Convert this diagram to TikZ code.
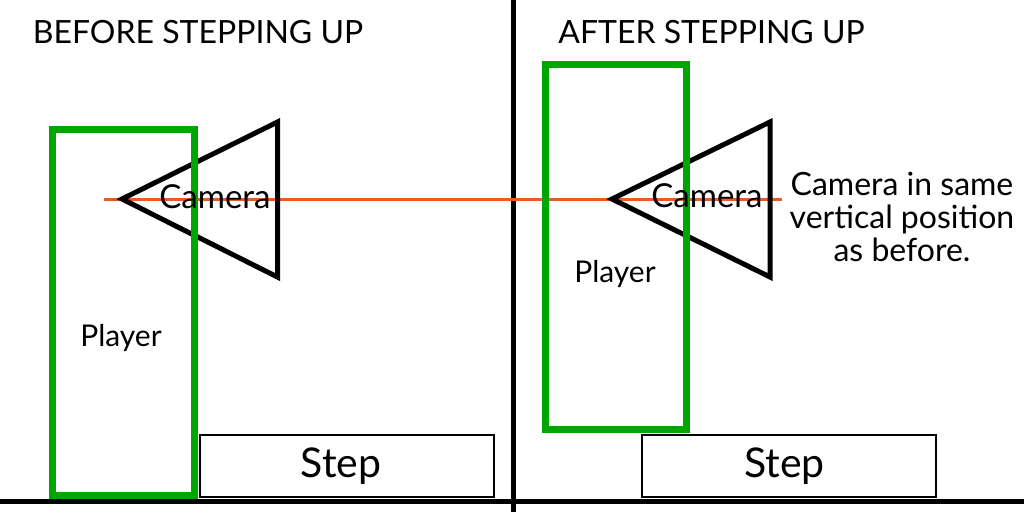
\documentclass[tikz,border=0pt]{standalone}
\usepackage{fontspec}
\setmainfont{Lato}
\definecolor{pgreen}{RGB}{0,166,0}
\definecolor{eyeline}{RGB}{235,90,30}
\begin{document}
\begin{tikzpicture}[x=1pt,y=-1pt,
  player/.style={draw=pgreen,line width=7pt},
  cam/.style={draw=black,line width=5pt,line join=miter},
  stepbox/.style={draw=black,line width=2.5pt},
  divider/.style={draw=black,line width=5pt},
  ground/.style={draw=black,line width=4.5pt},
  sight/.style={draw=eyeline,line width=3pt},
  lbl/.style={font=\fontsize{30}{33}\selectfont,inner sep=0pt,anchor=base},
  title/.style={font=\fontsize{32}{36}\selectfont,inner sep=0pt,anchor=base},
  camlbl/.style={font=\fontsize{33}{36}\selectfont,inner sep=0pt,anchor=base},
  note/.style={font=\fontsize{32}{33}\selectfont,inner sep=0pt,anchor=base,align=center},
  steplbl/.style={font=\fontsize{41}{48}\selectfont,inner sep=0pt,anchor=base}]
\useasboundingbox (0,0) rectangle (1024,512);
% frame lines
\draw[divider] (513,0) -- (513,512);
\draw[ground] (0,501.5) -- (1024,501.5);
% steps
\draw[stepbox] (200,435) rectangle (494,497);
\draw[stepbox] (642,435) rectangle (936,497);
% line of sight
\coordinate (s0) at (104,199);
\coordinate (s1) at (782,199);
\draw[sight] (s0) -- (s1);
% cameras
\coordinate (c1a) at (122,199);
\coordinate (c1b) at (277.5,122);
\coordinate (c1c) at (277.5,277);
\draw[cam] (c1a) -- (c1b) -- (c1c) -- cycle;
\coordinate (c2a) at (612,199);
\coordinate (c2b) at (770,122);
\coordinate (c2c) at (770,277);
\draw[cam] (c2a) -- (c2b) -- (c2c) -- cycle;
% players
\draw[player] (52.5,129.5) rectangle (194.5,495);
\draw[player] (545,64) rectangle (686,429);
% labels
\node[title] (t1) at (198,43) {BEFORE STEPPING UP};
\node[title] (t2) at (711.5,43) {AFTER STEPPING UP};
\node[camlbl] (cam1) at (215,208) {Camera};
\node[camlbl] (cam2) at (707,207) {Camera};
\node[lbl] (pl1) at (121,346) {Player};
\node[lbl] (pl2) at (615,282) {Player};
\node[steplbl] (st1) at (341,477) {Step};
\node[steplbl] (st2) at (784.5,477) {Step};
\node[note] (note) at (902,261) {Camera in same\\vertical position\\as before.};
\end{tikzpicture}
\end{document}
